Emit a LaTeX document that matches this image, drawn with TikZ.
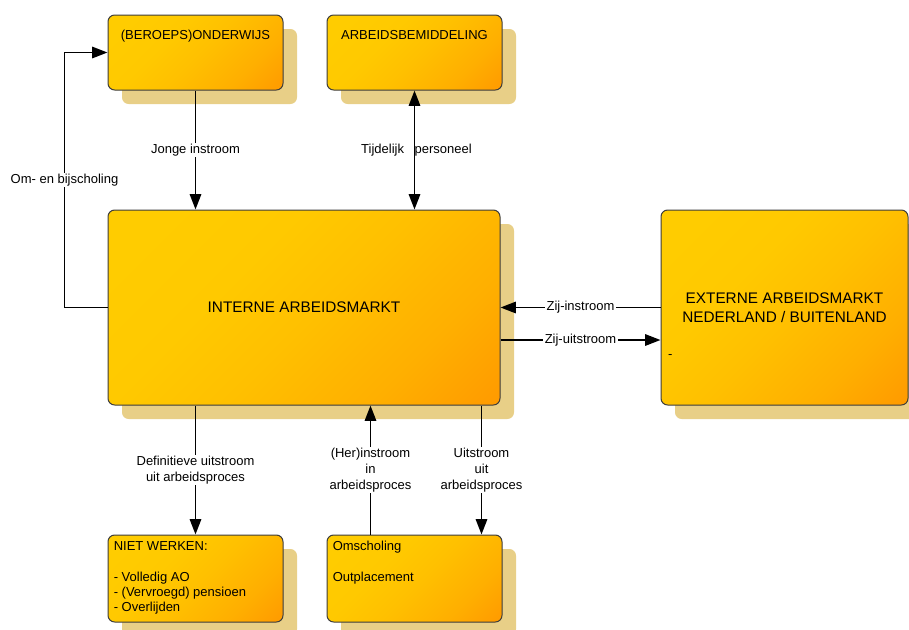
\documentclass[tikz,border=0pt]{standalone}
\usepackage{fontspec}
\setmainfont{Liberation Sans}
\usetikzlibrary{arrows.meta,shadows,calc}

\definecolor{boxyellow}{HTML}{FFCC00}
\definecolor{boxyellowb}{HTML}{FFC900}
\definecolor{boxmid}{HTML}{FFC000}
\definecolor{boxmidb}{HTML}{FFAF00}
\definecolor{boxorange}{HTML}{FF9900}
\definecolor{shadowtan}{HTML}{E8CF87}
\definecolor{boxline}{HTML}{3C3C3C}

\pgfdeclarehorizontalshading{boxgrad}{100bp}{color(0bp)=(boxyellow); color(22bp)=(boxyellow);
  color(38bp)=(boxyellowb); color(52bp)=(boxmid); color(70bp)=(boxmidb);
  color(86bp)=(boxorange); color(100bp)=(boxorange)}

\tikzset{
  box/.style={draw=boxline, line width=.75pt, rounded corners=5pt,
    shade, shading=boxgrad, shading angle=-45,
    drop shadow={shadow xshift=10.5pt, shadow yshift=-10.5pt, fill=shadowtan, opacity=1},
    minimum width=131.25pt, minimum height=56.25pt, inner sep=0pt,
    font=\fontsize{11.5}{14.25}\selectfont, align=center},
  boxtitle/.style={anchor=north, yshift=-11.5pt, inner sep=0pt,
    font=\fontsize{9.75}{11.5}\selectfont},
  boxlist/.style={anchor=north west, xshift=4.5pt, yshift=-5pt, inner sep=0pt,
    align=left, font=\fontsize{9.75}{11.5}\selectfont},
  flow/.style={line width=1.45pt, ->},
  lbl/.style={font=\fontsize{9.75}{12}\selectfont, fill=white, inner sep=1pt, align=center},
}

\begin{document}
\begin{tikzpicture}[x=0.75pt, y=-0.75pt, >={Triangle[length=11.5pt,width=8.5pt]}]
  \useasboundingbox (0,0) rectangle (909,629);
  \clip (0,0) rectangle (909,629);

  % boxes
  \node[box, label={[boxtitle]north:(BEROEPS)ONDERWIJS}] (ond) at (195.5,52.5) {};
  \node[box, label={[boxtitle]north:ARBEIDSBEMIDDELING}] (abm) at (414.5,52.5) {};
  \node[box, minimum width=294pt, minimum height=146.25pt] (im) at (304,307.5) {INTERNE ARBEIDSMARKT};
  \node[box, minimum width=185.25pt, minimum height=146.25pt,
    label={[boxlist, anchor=west, xshift=1pt, yshift=-32pt]west:-}] (ext) at (784.5,307.5)
    {EXTERNE ARBEIDSMARKT\\NEDERLAND / BUITENLAND};
  \node[box, minimum height=65.25pt,
    label={[boxlist]north west:NIET WERKEN:\\[11.5pt]- Volledig AO\\- (Vervroegd) pensioen\\- Overlijden}]
    (nw) at (195.5,578.5) {};
  \node[box, minimum height=65.25pt,
    label={[boxlist]north west:Omscholing\\[11.5pt]Outplacement}] (oms) at (414.5,578.5) {};

  % top
  \draw[flow] (ond.south) -- node[lbl] {Jonge instroom} (ond.south |- im.north);
  \draw[flow,<->] (abm.south) -- node[lbl, fill=none, xshift=1.5pt] {Tijdelijk\hspace{8pt}personeel} (abm.south |- im.north);
  \draw[flow] (im.west) -- ++(-43,0) |- node[lbl, pos=.25] {Om- en bijscholing} (ond.west);

  % right
  \draw[flow] (ext.west) -- node[lbl] {Zij-instroom} (ext.west -| im.east);
  \coordinate (zu) at ($(im.east)+(0,32.5)$);
  \draw[flow] (zu) -- node[lbl] {Zij-uitstroom} (zu -| ext.west);

  % bottom
  \draw[flow] (nw.north |- im.south) -- node[lbl] {Definitieve uitstroom\\uit arbeidsproces} (nw.north);
  \coordinate (her) at ($(oms.north west)+(44,0)$);
  \draw[flow] (her) -- node[lbl] {(Her)instroom\\in\\arbeidsproces} (her |- im.south);
  \coordinate (uit) at ($(oms.north east)+(-21,0)$);
  \draw[flow] (uit |- im.south) -- node[lbl] {Uitstroom\\uit\\arbeidsproces} (uit);
\end{tikzpicture}
\end{document}
